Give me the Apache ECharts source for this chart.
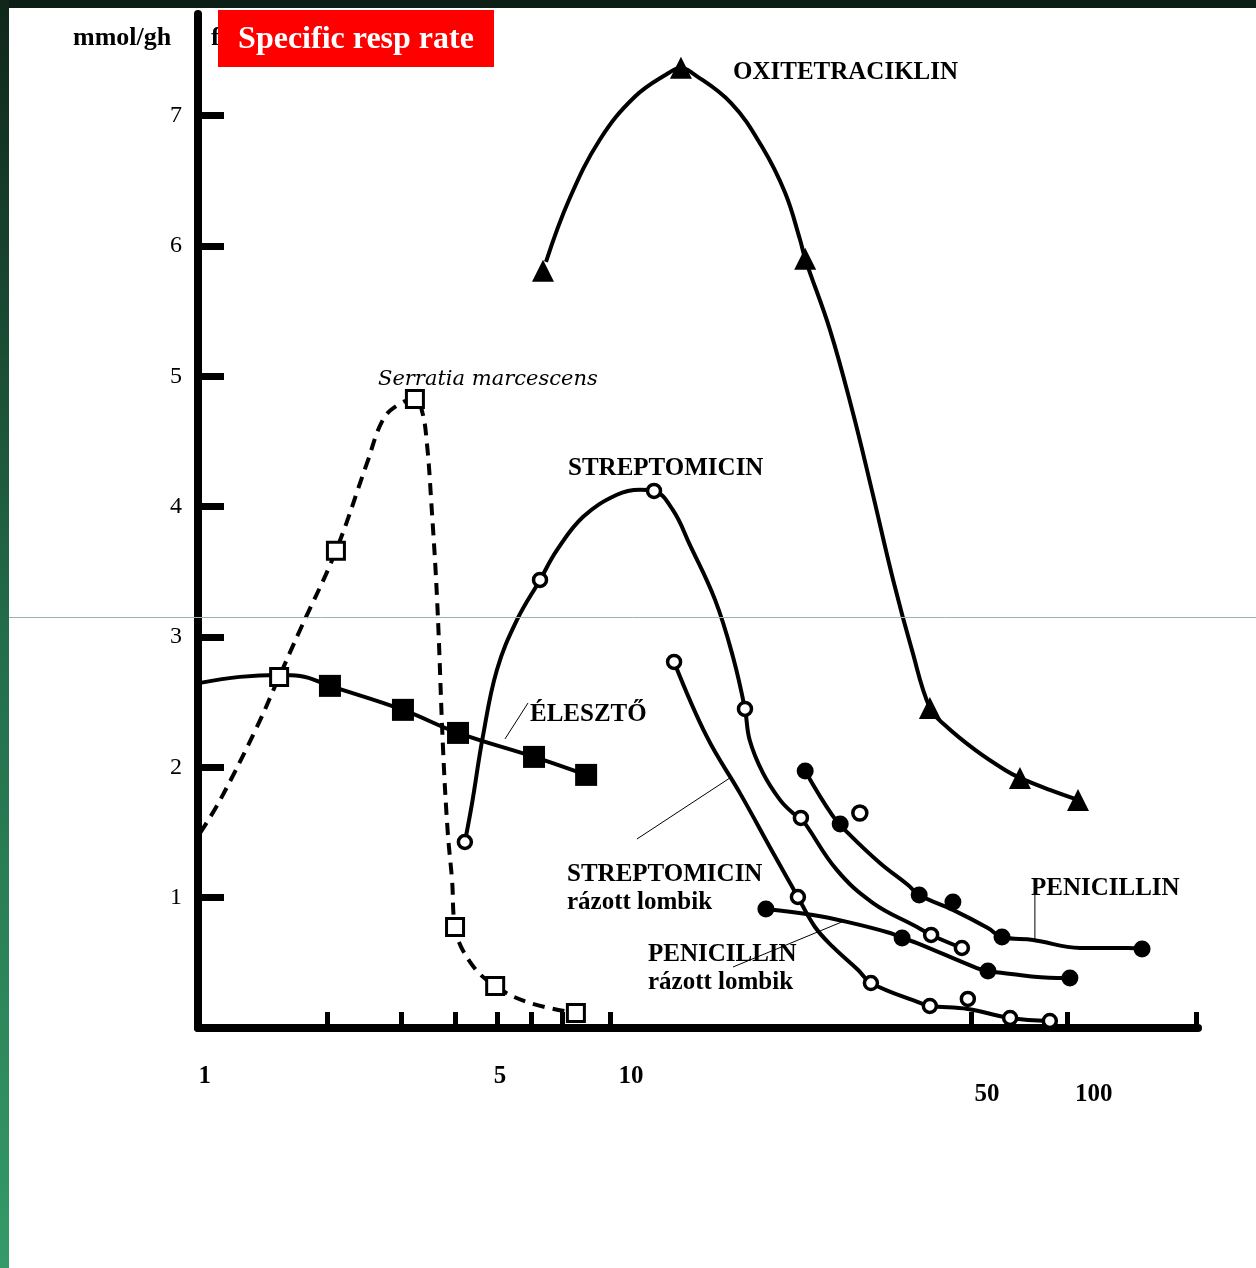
<!DOCTYPE html>
<html>
<head>
<meta charset="utf-8">
<script src="https://cdn.jsdelivr.net/npm/echarts@6/dist/echarts.min.js"></script>
<style>
html,body{margin:0;padding:0;background:#fff;}
#c{width:1256px;height:1268px;}
</style>
</head>
<body>
<div id="c"></div>
<script>
// x is in log-decade units from the axis origin (value 1), y in mmol/gh
const xTickPos = [0.302, 0.475, 0.602, 0.700, 0.780, 0.852, 0.965, 1.810, 2.035, 2.337];
const xLabelPos = [0.016, 0.707, 1.014, 1.848, 2.098];
const xLabelText = ['1', '5', '10', '50', '100'];
const yTickVals = [1, 2, 3, 4, 5, 6, 7];

// Serratia marcescens (dashed, open squares)
const serratiaPts = [[0.190,2.694],[0.323,3.661],[0.508,4.827],[0.602,0.775],[0.696,0.322],[0.885,0.115]];
const serratiaCurve = [[0.005,1.497],[0.052,1.750],[0.138,2.310],[0.190,2.694],[0.239,3.054],[0.323,3.661],
  [0.396,4.336],[0.433,4.666],[0.468,4.781],[0.508,4.827],[0.525,4.728],[0.536,4.490],[0.546,4.052],
  [0.560,3.285],[0.574,2.134],[0.585,1.497],[0.595,1.136],[0.602,0.775],[0.637,0.507],[0.696,0.322],
  [0.778,0.192],[0.885,0.115]];

// ÉLESZTŐ (filled squares)
const elesztoPts = [[0.309,2.625],[0.480,2.441],[0.609,2.264],[0.787,2.080],[0.909,1.942]];
const elesztoCurve = [[0.005,2.648],[0.098,2.694],[0.190,2.709],[0.239,2.701],[0.309,2.625],[0.480,2.441],
  [0.609,2.264],[0.787,2.080],[0.909,1.942]];

// STREPTOMICIN (open circles)
const strepPts = [[0.625,1.427],[0.801,3.438],[1.068,4.121],[1.281,2.448],[1.412,1.612],[1.717,0.714],[1.789,0.614]];
const strepCurve = [[0.625,1.427],[0.642,1.727],[0.667,2.233],[0.700,2.747],[0.747,3.131],[0.801,3.438],
  [0.841,3.668],[0.902,3.922],[0.981,4.091],[1.035,4.129],[1.068,4.121],[1.112,3.975],[1.152,3.707],
  [1.211,3.285],[1.253,2.847],[1.281,2.448],[1.292,2.210],[1.323,1.957],[1.363,1.750],[1.393,1.650],
  [1.412,1.612],[1.496,1.213],[1.581,0.959],[1.684,0.775],[1.717,0.714],[1.789,0.614]];

// STREPTOMICIN rázott lombik (open circles)
const strepShakePts = [[1.115,2.809],[1.405,1.005],[1.576,0.345],[1.714,0.169],[1.803,0.223],[1.902,0.077],[1.995,0.054]];
const strepShakeCurve = [[1.115,2.809],[1.192,2.233],[1.269,1.804],[1.347,1.343],[1.405,1.005],[1.445,0.775],
  [1.487,0.622],[1.546,0.445],[1.576,0.345],[1.691,0.192],[1.714,0.169],[1.803,0.146],[1.902,0.077],[1.995,0.054]];

// PENICILLIN (filled circles, one open point)
const penPts = [[1.422,1.972],[1.504,1.566],[1.689,1.021],[1.768,0.967],[1.883,0.698],[2.211,0.606]];
const penOpenPts = [[1.550,1.650]];
const penCurve = [[1.422,1.972],[1.485,1.635],[1.522,1.497],[1.597,1.266],[1.663,1.097],[1.689,1.021],
  [1.768,0.906],[1.850,0.767],[1.883,0.698],[1.956,0.675],[2.066,0.614],[2.178,0.614],[2.211,0.606]];

// PENICILLIN rázott lombik (filled circles)
const penShakePts = [[1.330,0.913],[1.649,0.691],[1.850,0.437],[2.042,0.384]];
const penShakeCurve = [[1.330,0.913],[1.440,0.867],[1.520,0.814],[1.621,0.729],[1.649,0.691],[1.684,0.652],
  [1.824,0.460],[1.850,0.437],[1.885,0.422],[2.012,0.384],[2.042,0.384]];

// OXITETRACIKLIN (filled triangles)
const oxiPts = [[0.808,5.810],[1.131,7.368],[1.422,5.902],[1.714,2.456],[1.925,1.919],[2.061,1.750]];
const oxiCurve = [[0.815,5.879],[0.869,6.355],[0.941,6.815],[1.023,7.145],[1.103,7.329],[1.131,7.368],
  [1.157,7.329],[1.248,7.099],[1.321,6.761],[1.375,6.408],[1.410,6.048],[1.422,5.902],[1.480,5.357],
  [1.532,4.743],[1.578,4.129],[1.628,3.438],[1.672,2.901],[1.714,2.456],[1.749,2.325],[1.820,2.134],
  [1.890,1.980],[1.925,1.919],[1.995,1.827],[2.061,1.750]];

// leader lines for labels
const leaderEleszto = [[0.719,2.218],[0.773,2.494]];
const leaderStrepShake = [[1.028,1.450],[1.246,1.919]];
const leaderPenShake = [[1.253,0.468],[1.508,0.814]];
const leaderPen = [[1.960,1.021],[1.960,0.675]];

const chart = echarts.init(document.getElementById('c'), null, {renderer: 'canvas'});

function curve(data, dashed) {
  return {type: 'line', data: data, smooth: 0.4, symbol: 'none', silent: true,
    lineStyle: {color: '#000', width: 4, opacity: 1, type: dashed ? [12, 8] : 'solid'}, z: 3};
}
function thin(data) {
  return {type: 'line', data: data, symbol: 'none', silent: true,
    lineStyle: {color: '#000', width: 1, opacity: 1}, z: 3};
}
function marks(data, symbol, size, filled, bw) {
  return {type: 'scatter', data: data, symbol: symbol, symbolSize: size, silent: true, z: 5,
    itemStyle: {color: filled ? '#000' : '#fff', opacity: 1, borderColor: '#000', borderWidth: filled ? 0 : bw}};
}

const serif = 'Liberation Serif';
function txt(x, y, s, opt, z) {
  return {type: 'text', x: x, y: y, z: z || 20,
    style: Object.assign({text: s, fill: '#000', fontFamily: serif, fontWeight: 'bold', fontSize: 25,
      verticalAlign: 'middle'}, opt || {})};
}

chart.setOption({
  animation: false,
  backgroundColor: '#fff',
  grid: {left: 198, right: 58, top: 14, bottom: 240, containLabel: false},
  xAxis: {
    type: 'value', min: 0, max: 2.342,
    splitLine: {show: false},
    axisLine: {show: true, lineStyle: {color: '#000', width: 8}},
    axisTick: {show: true, inside: true, length: 16, customValues: xTickPos, lineStyle: {color: '#000', width: 5}},
    axisLabel: {
      customValues: xLabelPos, margin: 36, color: '#000', fontFamily: serif, fontWeight: 'bold', fontSize: 25,
      formatter: function (v) {
        const i = xLabelPos.indexOf(v);
        const t = i >= 0 ? xLabelText[i] : '';
        return v > 1.5 ? '{low|' + t + '}' : t;
      },
      rich: {low: {padding: [18, 0, 0, 0], color: '#000', fontFamily: serif, fontWeight: 'bold', fontSize: 25}}
    }
  },
  yAxis: {
    type: 'value', min: 0, max: 7.78,
    splitLine: {show: false},
    axisLine: {show: true, lineStyle: {color: '#000', width: 8, cap: 'round'}},
    axisTick: {show: true, inside: true, length: 26, customValues: yTickVals, lineStyle: {color: '#000', width: 7}},
    axisLabel: {customValues: yTickVals, margin: 16, color: '#000', fontFamily: serif, fontSize: 24}
  },
  series: [
    curve(serratiaCurve, true),
    curve(elesztoCurve, false),
    curve(strepCurve, false),
    curve(strepShakeCurve, false),
    curve(penCurve, false),
    curve(penShakeCurve, false),
    curve(oxiCurve, false),
    thin(leaderEleszto), thin(leaderStrepShake), thin(leaderPenShake), thin(leaderPen),
    marks(serratiaPts, 'rect', 17, false, 3),
    marks(elesztoPts, 'rect', 22, true, 0),
    marks(strepPts, 'circle', 13, false, 3.5),
    marks(strepShakePts, 'circle', 13, false, 3.5),
    marks(penPts, 'circle', 17, true, 0),
    marks(penOpenPts, 'circle', 14, false, 3.5),
    marks(penShakePts, 'circle', 17, true, 0),
    marks(oxiPts, 'triangle', 22, true, 0)
  ],
  graphic: [
    {type: 'rect', z: 30, shape: {x: 0, y: 0, width: 1256, height: 8}, style: {fill: '#0c1e15'}},
    {type: 'rect', z: 30, shape: {x: 0, y: 0, width: 9, height: 1268},
      style: {fill: new echarts.graphic.LinearGradient(0, 0, 0, 1, [
        {offset: 0, color: '#10261a'}, {offset: 0.5, color: '#236c4a'}, {offset: 1, color: '#349a68'}])}},
    {type: 'line', z: 30, shape: {x1: 9, y1: 617.5, x2: 1256, y2: 617.5}, style: {stroke: '#9db3ab', lineWidth: 1}},
    txt(73, 38, 'mmol/gh', {fontSize: 26}),
    txt(211, 38, 'f', {fontSize: 26}),
    {type: 'rect', z: 31, shape: {x: 218, y: 10, width: 276, height: 57}, style: {fill: '#ff0000'}},
    txt(356, 40, 'Specific resp rate', {fill: '#fff', fontSize: 32, align: 'center'}, 32),
    txt(733, 73, 'OXITETRACIKLIN'),
    txt(378, 380, 'Serratia marcescens', {fontFamily: 'DejaVu Serif', fontStyle: 'italic', fontWeight: 'normal', fontSize: 21}),
    txt(568, 469, 'STREPTOMICIN'),
    txt(530, 715, 'ÉLESZTŐ'),
    txt(567, 875, 'STREPTOMICIN'),
    txt(567, 903, 'rázott lombik'),
    txt(648, 955, 'PENICILLIN'),
    txt(648, 983, 'rázott lombik'),
    txt(1031, 889, 'PENICILLIN')
  ]
});
</script>
</body>
</html>
